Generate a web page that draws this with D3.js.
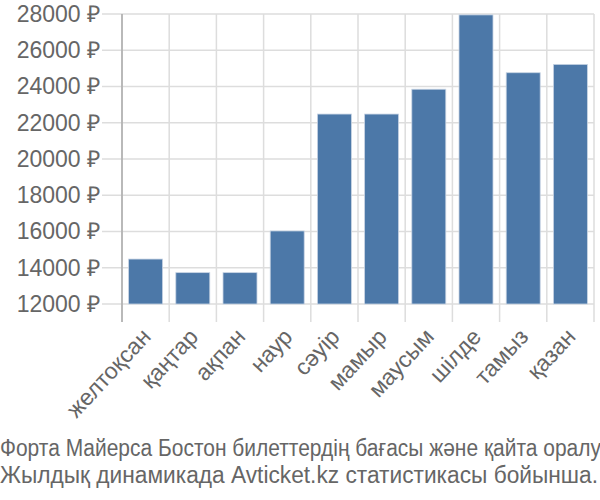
<!DOCTYPE html>
<html>
<head>
<meta charset="utf-8">
<script src="https://cdn.jsdelivr.net/npm/d3@7"></script>
<style>
  body { margin: 0; background: #fff; }
  svg { display: block; }
</style>
</head>
<body>
<svg id="chart" width="600" height="500"></svg>
<script>
// месяцы и средняя цена билета
const months = ["желтоқсан", "қаңтар", "ақпан", "наур", "сәуір", "мамыр", "маусым", "шілде", "тамыз", "қазан"];
const prices = [14480, 13730, 13730, 16030, 22480, 22480, 23850, 27950, 24760, 25220];
const yTicks = [12000, 14000, 16000, 18000, 20000, 22000, 24000, 26000, 28000];
const captionLines = [
  "Форта Майерса Бостон билеттердің бағасы және қайта оралу",
  "Жылдық динамикада Avticket.kz статистикасы бойынша."
];
const captionWidths = [601, 598];

const svg = d3.select("#chart")
  .attr("font-family", "'Liberation Sans', Arial, sans-serif");

const margin = {top: 14, right: 6, bottom: 196, left: 122};
const width = 600 - margin.left - margin.right;
const height = 500 - margin.top - margin.bottom;

const x = d3.scaleBand()
  .domain(months)
  .range([margin.left, margin.left + width])
  .paddingInner(0.28)
  .paddingOuter(0.14);

const y = d3.scaleLinear()
  .domain([12000, 28000])
  .range([margin.top + height, margin.top]);

const textColor = "#666";
const gridColor = "#ddd";

// горизонтальная сетка
svg.append("g")
  .attr("class", "ygrid")
  .selectAll("line")
  .data(yTicks)
  .join("line")
    .attr("x1", margin.left - 20)
    .attr("x2", margin.left + width)
    .attr("y1", d => y(d))
    .attr("y2", d => y(d))
    .attr("stroke", gridColor)
    .attr("stroke-width", 1.5);

// вертикальная сетка на границах полос
const step = x.step();
const bounds = months.map((m, i) => margin.left + i * step).concat([margin.left + width]);
svg.append("g")
  .attr("class", "xgrid")
  .selectAll("line")
  .data(bounds)
  .join("line")
    .attr("x1", d => d)
    .attr("x2", d => d)
    .attr("y1", margin.top)
    .attr("y2", margin.top + height + 18)
    .attr("stroke", gridColor)
    .attr("stroke-width", 1.5);

// ось Y
svg.append("line")
  .attr("x1", margin.left).attr("x2", margin.left)
  .attr("y1", margin.top).attr("y2", margin.top + height + 18)
  .attr("stroke", "#aaa")
  .attr("stroke-width", 1.5);

svg.append("g")
  .attr("transform", `translate(${margin.left - 22},0)`)
  .call(d3.axisLeft(y).tickValues(yTicks).tickSize(0).tickFormat(d => d + " ₽"))
  .call(g => g.select(".domain").remove())
  .call(g => g.selectAll("text")
    .attr("x", 0)
    .attr("fill", textColor)
    .attr("font-family", "'Liberation Sans', Arial, sans-serif")
    .attr("font-size", 23));

// столбцы
svg.append("g")
  .selectAll("rect")
  .data(prices)
  .join("rect")
    .attr("x", (d, i) => x(months[i]))
    .attr("y", d => y(d))
    .attr("width", x.bandwidth())
    .attr("height", d => y(12000) - y(d))
    .attr("fill", "#4c78a8")
    .attr("stroke", "#c8d4e4")
    .attr("stroke-width", 0.8);

// подписи месяцев
svg.append("g")
  .attr("transform", `translate(0,${margin.top + height + 29})`)
  .call(d3.axisBottom(x).tickSize(0))
  .call(g => g.select(".domain").remove())
  .call(g => g.selectAll("text")
    .attr("fill", textColor)
    .attr("font-size", 23)
    .attr("text-anchor", "end")
    .attr("dy", "0.35em")
    .attr("y", 0)
    .attr("x", 1)
    .attr("transform", "rotate(-47)"));

// подпись под графиком
svg.append("g")
  .selectAll("text")
  .data(captionLines)
  .join("text")
    .attr("x", 0)
    .attr("y", (d, i) => 456 + i * 27)
    .attr("fill", textColor)
    .attr("font-size", 23)
    .attr("textLength", (d, i) => captionWidths[i])
    .attr("lengthAdjust", "spacingAndGlyphs")
    .text(d => d);
</script>
</body>
</html>
